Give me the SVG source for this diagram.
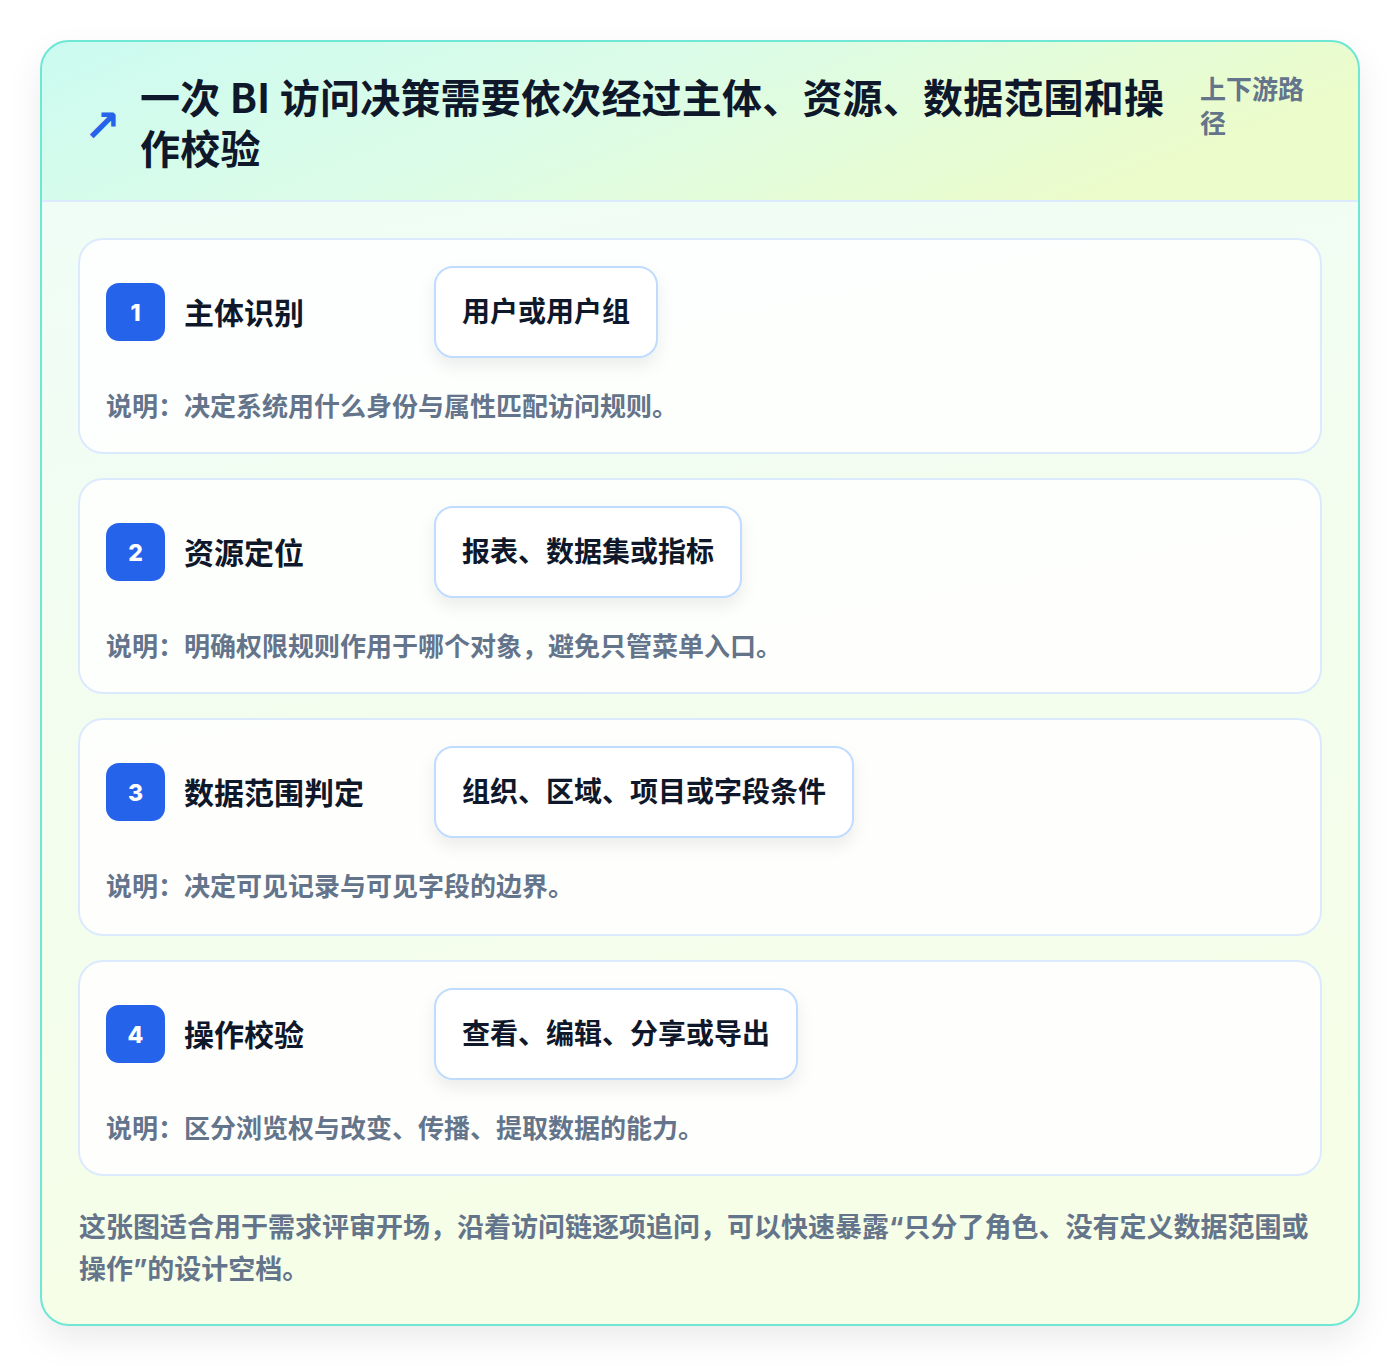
<svg xmlns="http://www.w3.org/2000/svg" width="1400" height="1366" viewBox="0 0 1400 1366">
<defs>
<linearGradient id="hdr" x1="0" y1="0" x2="1" y2="0.3">
<stop offset="0" stop-color="#ccfbf1"/>
<stop offset="0.5" stop-color="#dcfce7"/>
<stop offset="1" stop-color="#ecfccb"/>
</linearGradient>
<linearGradient id="body" x1="0" y1="0" x2="0.2" y2="1">
<stop offset="0" stop-color="#effdf8"/>
<stop offset="1" stop-color="#f6fee7"/>
</linearGradient>
<clipPath id="outerClip"><rect x="41" y="41" width="1318" height="1284" rx="28"/></clipPath>
<filter id="shadowBig" x="-10%" y="-10%" width="120%" height="120%">
<feDropShadow dx="0" dy="14" stdDeviation="16" flood-color="#0f172a" flood-opacity="0.08"/>
</filter>
<filter id="shadowPill" x="-20%" y="-30%" width="140%" height="170%">
<feDropShadow dx="0" dy="8" stdDeviation="8" flood-color="#0f172a" flood-opacity="0.07"/>
</filter>
<style>
text { font-family: "Noto Sans CJK SC", "Inter", "Noto Sans", sans-serif; font-weight: 700; }
.title { font-size: 40px; fill: #0f172a; letter-spacing: 0.2px; }
.tag { font-size: 26px; fill: #64748b; }
.card { fill: #ffffff; fill-opacity: 0.85; stroke: #dbeafe; stroke-width: 2; }
.badge { fill: #2563eb; }
.num { font-size: 23px; fill: #ffffff; text-anchor: middle; font-family: "Inter", "Noto Sans", sans-serif; font-weight: 800; }
.stitle { font-size: 30px; fill: #0f172a; }
.pill { fill: #ffffff; stroke: #bfdbfe; stroke-width: 2; }
.ptext { font-size: 28px; fill: #0f172a; }
.desc { font-size: 26px; fill: #64748b; }
.foot { font-size: 27px; fill: #64748b; font-family: "Inter", "Noto Sans CJK SC", sans-serif; }
</style>
</defs>
<rect x="0" y="0" width="1400" height="1366" fill="#ffffff"/>
<g id="frame">
<rect x="41" y="41" width="1318" height="1284" rx="28" fill="url(#body)" filter="url(#shadowBig)"/>
<g clip-path="url(#outerClip)">
<rect x="41" y="41" width="1318" height="160" fill="url(#hdr)"/>
<line x1="41" y1="201" x2="1359" y2="201" stroke="#dbeafe" stroke-width="2"/>
</g>
<rect x="41" y="41" width="1318" height="1284" rx="28" fill="none" stroke="#6ee7d4" stroke-width="2"/>
</g>
<g id="header">
<text x="84" y="141" font-size="44" fill="#2563eb" style="font-family:'DejaVu Sans',sans-serif;font-weight:700">↗</text>
<text class="title" x="140" y="113">一次 BI 访问决策需要依次经过主体、资源、数据范围和操</text>
<text class="title" x="140" y="164">作校验</text>
<text class="tag" x="1200" y="99">上下游路</text>
<text class="tag" x="1200" y="133">径</text>
</g>
<g id="connectors"></g>
<g id="step1">
<rect class="card" x="79" y="239" width="1242" height="214" rx="24"/>
<rect class="badge" x="106" y="283" width="59" height="58" rx="13"/>
<text class="num" x="135.5" y="321">1</text>
<text class="stitle" x="184" y="324">主体识别</text>
<rect class="pill" x="435" y="267" width="222" height="90" rx="18" filter="url(#shadowPill)"/>
<text class="ptext" x="462" y="322">用户或用户组</text>
<text class="desc" x="106" y="416">说明：决定系统用什么身份与属性匹配访问规则。</text>
</g>
<g id="step2">
<rect class="card" x="79" y="479" width="1242" height="214" rx="24"/>
<rect class="badge" x="106" y="523" width="59" height="58" rx="13"/>
<text class="num" x="135.5" y="561">2</text>
<text class="stitle" x="184" y="564">资源定位</text>
<rect class="pill" x="435" y="507" width="306" height="90" rx="18" filter="url(#shadowPill)"/>
<text class="ptext" x="462" y="562">报表、数据集或指标</text>
<text class="desc" x="106" y="656">说明：明确权限规则作用于哪个对象，避免只管菜单入口。</text>
</g>
<g id="step3">
<rect class="card" x="79" y="719" width="1242" height="216" rx="24"/>
<rect class="badge" x="106" y="763" width="59" height="58" rx="13"/>
<text class="num" x="135.5" y="801">3</text>
<text class="stitle" x="184" y="804">数据范围判定</text>
<rect class="pill" x="435" y="747" width="418" height="90" rx="18" filter="url(#shadowPill)"/>
<text class="ptext" x="462" y="802">组织、区域、项目或字段条件</text>
<text class="desc" x="106" y="896">说明：决定可见记录与可见字段的边界。</text>
</g>
<g id="step4">
<rect class="card" x="79" y="961" width="1242" height="214" rx="24"/>
<rect class="badge" x="106" y="1005" width="59" height="58" rx="13"/>
<text class="num" x="135.5" y="1043">4</text>
<text class="stitle" x="184" y="1046">操作校验</text>
<rect class="pill" x="435" y="989" width="362" height="90" rx="18" filter="url(#shadowPill)"/>
<text class="ptext" x="462" y="1044">查看、编辑、分享或导出</text>
<text class="desc" x="106" y="1138">说明：区分浏览权与改变、传播、提取数据的能力。</text>
</g>
<g id="footer">
<text class="foot" x="79" y="1237">这张图适合用于需求评审开场，沿着访问链逐项追问，可以快速暴露“只分了角色、没有定义数据范围或</text>
<text class="foot" x="79" y="1279">操作”的设计空档。</text>
</g>
</svg>
